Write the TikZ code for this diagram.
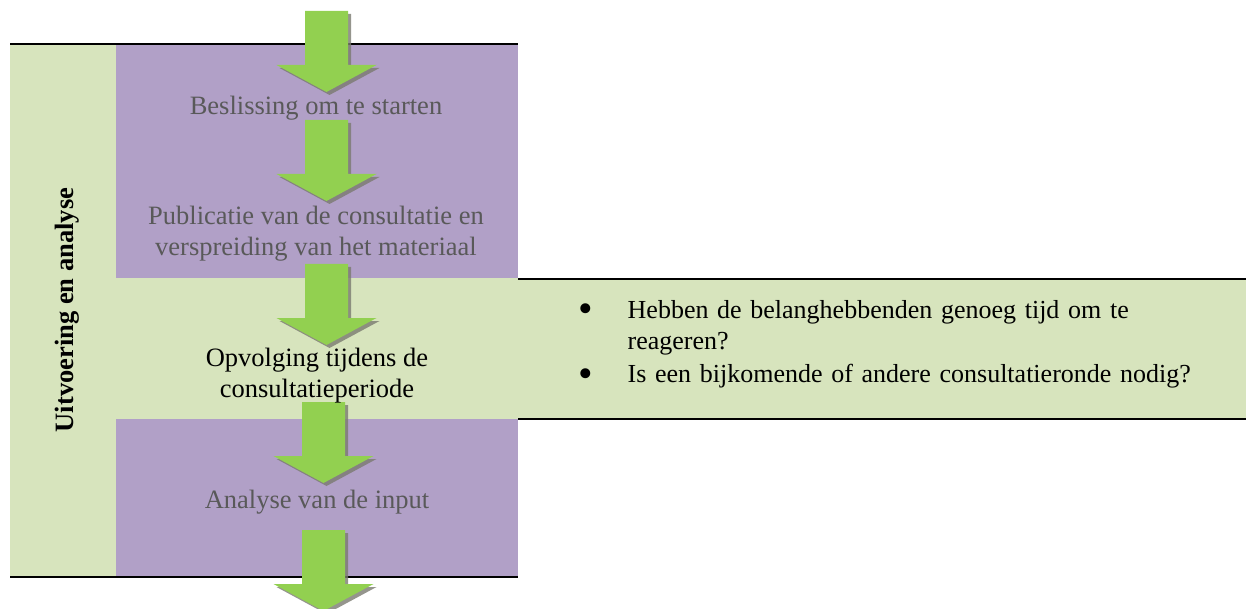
\documentclass[tikz,border=0pt]{standalone}
\usepackage{fontspec}
\setmainfont{Liberation Serif}

\definecolor{phasegreen}{HTML}{D7E4BD}
\definecolor{steppurple}{HTML}{B1A0C7}
\definecolor{arrowgreen}{HTML}{92D050}
\definecolor{shadowgray}{HTML}{7A7A70}
\definecolor{dimtext}{HTML}{595959}

\newcommand\listbullet{\makebox[49pt][l]{\raisebox{-5pt}{\scalebox{1.6}{\textbullet}}}}

\tikzset{
  rule/.style={line width=2pt, black},
  steptext/.style={font=\fontsize{26.5}{31}\selectfont, text=dimtext, inner sep=0pt, align=center},
  phasetext/.style={font=\fontsize{26.5}{31}\selectfont, text=black, inner sep=0pt, align=center},
  phaselabel/.style={font=\fontsize{26.5}{31}\selectfont\bfseries, text=black, inner sep=0pt},
  listtext/.style={font=\fontsize{26}{32}\selectfont, text=black, inner sep=0pt, align=left},
  % block arrow with a drop shadow; origin = top centre of the shaft
  flowarrow/.pic={
    \fill[shadowgray, opacity=.8, shift={(3,3)}]
      (-21.5,0) -- (21.5,0) -- (21.5,54) -- (50,54) -- (0,81) -- (-50,54) -- (-21.5,54) -- cycle;
    \fill[arrowgreen]
      (-21.5,0) -- (21.5,0) -- (21.5,54) -- (50,54) -- (0,81) -- (-50,54) -- (-21.5,54) -- cycle;
  }
}

\begin{document}
\begin{tikzpicture}[x=1pt, y=-1pt]
  \useasboundingbox (0,0) rectangle (1246,609);

  % phase column and step panels
  \fill[phasegreen] (10,44) rectangle (518,577);
  \fill[steppurple] (116,45) rectangle (518,278);
  \fill[steppurple] (116,419) rectangle (518,577);
  \fill[phasegreen] (518,279) rectangle (1246,419);

  % horizontal rules
  \draw[rule] (10,44) -- (518,44);
  \draw[rule] (10,577) -- (518,577);
  \draw[rule] (518,279) -- (1246,279);
  \draw[rule] (518,419) -- (1246,419);

  % phase title
  \node[phaselabel, rotate=90, anchor=base] (phase) at (73,310) {Uitvoering en analyse};

  % flow arrows
  \pic at (326.5,11)  {flowarrow};
  \pic at (326.5,120) {flowarrow};
  \pic at (326.5,264) {flowarrow};
  \pic at (323.5,402) {flowarrow};
  \pic at (323.5,530) {flowarrow};

  % step labels (two-line labels are placed by the baseline of their last line)
  \node[steptext, anchor=base] (decide) at (316,115) {Beslissing om te starten};
  \node[steptext, anchor=base] (publish) at (316,256)
    {Publicatie van de consultatie en\\verspreiding van het materiaal};
  \node[phasetext, anchor=base] (monitor) at (317,397)
    {Opvolging tijdens de\\consultatieperiode};
  \node[steptext, anchor=base] (analyse) at (317,508) {Analyse van de input};

  % questions for the monitoring step
  \node[listtext, anchor=base west, text width=636pt] (questions) at (578.5,318)
    {\raggedright\hyphenpenalty=10000\exhyphenpenalty=10000
     \hangindent=49pt\hangafter=1\listbullet Hebben de belanghebbenden genoeg tijd om te reageren?\par
     \hangindent=49pt\hangafter=1\listbullet Is een bijkomende of andere consultatieronde nodig?\par};
\end{tikzpicture}
\end{document}
